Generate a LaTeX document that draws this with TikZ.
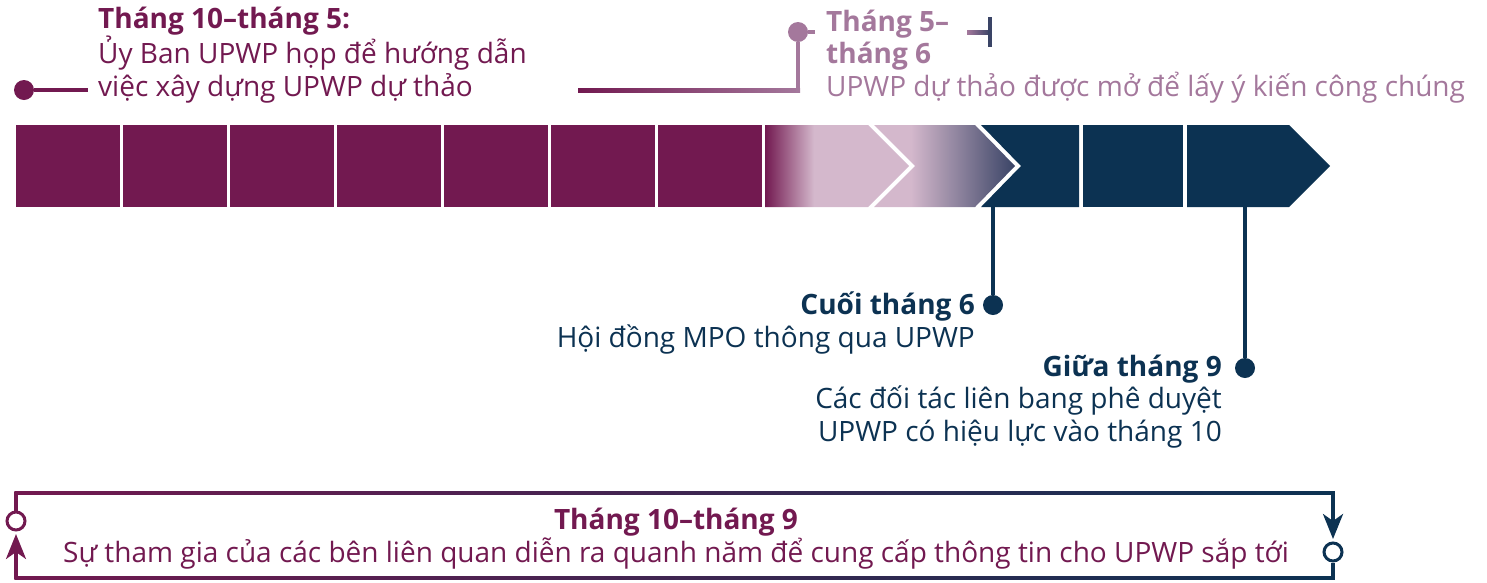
\documentclass[tikz,border=0pt]{standalone}
\usepackage{fontspec}
\setmainfont{Open Sans}
\usetikzlibrary{arrows.meta,calc}

\definecolor{upurple}{RGB}{114,25,80}
\definecolor{upink}{RGB}{212,184,204}
\definecolor{umauve}{RGB}{164,120,156}
\definecolor{unavy}{RGB}{12,50,82}
\definecolor{uslate}{RGB}{58,68,102}

\pgfdeclarehorizontalshading{fadeA}{100bp}{color(0bp)=(upurple); color(25bp)=(upurple); color(42bp)=(upink); color(100bp)=(upink)}
\pgfdeclarehorizontalshading{fadeB}{100bp}{color(0bp)=(upink); color(38bp)=(upink); color(75bp)=(uslate); color(100bp)=(uslate)}

\begin{document}
\begin{tikzpicture}[x=1pt,y=-1pt,
	milestone/.style={circle,fill=#1,inner sep=0pt,minimum size=20pt},
	loopring/.style={circle,draw=#1,fill=white,line width=3pt,inner sep=0pt,minimum size=18pt},
	link/.style={line width=4pt},
	loopline/.style={line width=3.5pt},
	looptip/.style={-{Stealth[length=25pt,width=20pt,inset=7pt]}},
	label/.style={inner sep=0pt,font=\fontsize{28}{32.5}\selectfont}]
	\useasboundingbox (0,0) rectangle (1487,582);

	% bar
	\foreach \i in {0,...,6}
		\fill[upurple] (16+107*\i,125) rectangle ++(104,82);
	\shade[shading=fadeA] (765,125) -- (868,125) -- (909,166) -- (868,207) -- (765,207) -- cycle;
	\shade[shading=fadeB] (874,125) -- (975,125) -- (1015,166) -- (975,207) -- (874,207) -- (915,166) -- cycle;
	\fill[unavy] (981,125) -- (1079,125) -- (1079,207) -- (981,207) -- (1021,166) -- cycle;
	\fill[unavy] (1083,125) rectangle (1183,207);
	\fill[unavy] (1187,125) -- (1289,125) -- (1330,166) -- (1289,207) -- (1187,207) -- cycle;

	% Oct - May
	\node[milestone=upurple] (d10) at (24,90) {};
	\coordinate (t10) at (88,90);
	\draw[upurple,link] (d10) -- (t10);
	\node[label,anchor=base west,align=left,text=upurple] (l10) at (98,96)
		{\textbf{Tháng 10--tháng 5:}\\Ủy Ban UPWP họp để hướng dẫn\\việc xây dựng UPWP dự thảo};

	% May - June
	\coordinate (a5) at (578,90);
	\node[milestone=umauve] (d5) at (798,32) {};
	\coordinate (e5) at (d5 |- a5);
	\coordinate (s5) at (815,32);
	\shade[left color=upurple,right color=umauve] ($(a5)+(0,-2)$) rectangle ($(e5)+(2,2)$);
	\draw[umauve,link] ($(e5)+(0,2)$) -- (d5) -- (s5);
	\node[label,anchor=base west,align=left,text=umauve] (l5) at (826,96)
		{\textbf{Tháng 5--}\\\textbf{tháng 6}\\UPWP dự thảo được mở để lấy ý kiến công chúng};
	\coordinate (m5a) at (967,32);
	\coordinate (m5b) at (990,32);
	\shade[left color=umauve,right color=uslate] ($(m5a)+(0,-2)$) rectangle ($(m5b)+(0,2)$);
	\draw[uslate,link] ($(m5b)+(0,-15)$) -- ($(m5b)+(0,15)$);

	% end of June
	\coordinate (b6) at (993,207);
	\node[milestone=unavy] (d6) at (993,305) {};
	\draw[unavy,link] (b6) -- (d6);
	\node[label,anchor=base east,align=right,text=unavy] (l6) at (975,347)
		{\textbf{Cuối tháng 6}\\Hội đồng MPO thông qua UPWP};

	% mid September
	\coordinate (b9) at (1245,207);
	\node[milestone=unavy] (d9) at (1245,368) {};
	\draw[unavy,link] (b9) -- (d9);
	\node[label,anchor=base east,align=right,text=unavy] (l9) at (1222,441)
		{\textbf{Giữa tháng 9}\\Các đối tác liên bang phê duyệt\\UPWP có hiệu lực vào tháng 10};

	% year-round loop
	\coordinate (tl) at (16,493);
	\coordinate (tr) at (1333,493);
	\coordinate (bl) at (16,578);
	\coordinate (br) at (1333,578);
	\shade[left color=upurple,middle color=upink,right color=unavy] ($(tl)+(-1.75,-1.75)$) rectangle ($(tr)+(1.75,1.75)$);
	\shade[left color=upurple,middle color=upink,right color=unavy] ($(bl)+(-1.75,-1.75)$) rectangle ($(br)+(1.75,1.75)$);
	\node[loopring=upurple] (rl) at (16,521) {};
	\node[loopring=unavy] (rr) at (1333,552) {};
	\draw[upurple,loopline] (tl) -- (rl);
	\draw[upurple,loopline,looptip] (bl) -- (16,534);
	\draw[unavy,loopline,looptip] (tr) -- (1333,539);
	\draw[unavy,loopline] (rr) -- (br);
	\node[label,anchor=base,align=center,text=upurple] (ly) at (676,562)
		{\textbf{Tháng 10--tháng 9}\\Sự tham gia của các bên liên quan diễn ra quanh năm để cung cấp thông tin cho UPWP sắp tới};
\end{tikzpicture}
\end{document}
